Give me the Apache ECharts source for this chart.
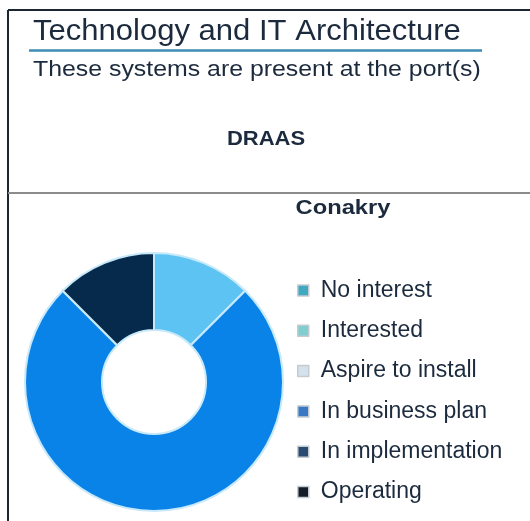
<!DOCTYPE html>
<html>
<head>
<meta charset="utf-8">
<script src="https://cdn.jsdelivr.net/npm/echarts@6/dist/echarts.min.js"></script>
<style>
html,body{margin:0;padding:0;background:#fff;}
#chart{width:530px;height:521px;}
</style>
</head>
<body>
<div id="chart"></div>
<script>
const pageTitle = 'Technology and IT Architecture';
const pageSubtitle = 'These systems are present at the port(s)';
const systemName = 'DRAAS';
const portName = 'Conakry';
const categories = ['No interest', 'Interested', 'Aspire to install', 'In business plan', 'In implementation', 'Operating'];
const values = [0, 1, 0, 6, 0, 1];
const sliceColors = ['#3aa6c4', '#5cc3f2', '#d6e6f0', '#0a83e8', '#2a4a78', '#062a4c'];
const legendColors = ['#3fa9c0', '#7fcfd0', '#d3e2ec', '#3a78c6', '#2b4a72', '#141c28'];

const chart = echarts.init(document.getElementById('chart'));
const textColor = '#1b2a3d';
const font = 'Liberation Sans, Arial, sans-serif';

function label(text, x, y, size, bold, sx, align) {
  return {
    type: 'text', x: x, y: y, scaleX: sx,
    style: { text: text, x: 0, y: 0, align: align || 'left', verticalAlign: 'middle',
             font: (bold ? 'bold ' : '') + size + 'px ' + font, fill: textColor }
  };
}

chart.setOption({
  backgroundColor: '#ffffff',
  animation: false,
  legend: {
    orient: 'vertical',
    left: 292,
    top: 274,
    itemWidth: 11,
    itemHeight: 11,
    itemGap: 17.3,
    icon: 'rect',
    selectedMode: false,
    textStyle: { fontFamily: font, fontSize: 23, color: textColor, padding: [0, 0, 0, 7] },
    data: categories.map((c, i) => ({
      name: c,
      itemStyle: { color: legendColors[i], borderColor: '#c4ccd2', borderWidth: 1.5 }
    }))
  },
  series: [{
    type: 'pie',
    center: [154, 382],
    radius: [52, 129],
    startAngle: 90,
    clockwise: true,
    label: { show: false },
    labelLine: { show: false },
    emphasis: { disabled: true },
    itemStyle: { borderColor: '#c8e9f9', borderWidth: 2 },
    data: categories.map((c, i) => ({
      name: c,
      value: values[i],
      itemStyle: { color: sliceColors[i] }
    }))
  }],
  graphic: [
    { type: 'line', shape: { x1: 8, y1: 10, x2: 530, y2: 10 }, style: { stroke: '#1c2633', lineWidth: 2 } },
    { type: 'line', shape: { x1: 8, y1: 10, x2: 8, y2: 521 }, style: { stroke: '#1c2633', lineWidth: 2 } },
    { type: 'line', shape: { x1: 8, y1: 193, x2: 530, y2: 193 }, style: { stroke: '#8c8c8c', lineWidth: 2 } },
    { type: 'line', shape: { x1: 29, y1: 50.5, x2: 482, y2: 50.5 }, style: { stroke: '#3d8db5', lineWidth: 2.5 } },
    label(pageTitle, 33, 32, 29, false, 1.07),
    label(pageSubtitle, 33, 70, 22, false, 1.13),
    label(systemName, 266, 139, 20, true, 1.1, 'center'),
    label(portName, 343, 208, 21, true, 1.13, 'center')
  ]
});
</script>
</body>
</html>
